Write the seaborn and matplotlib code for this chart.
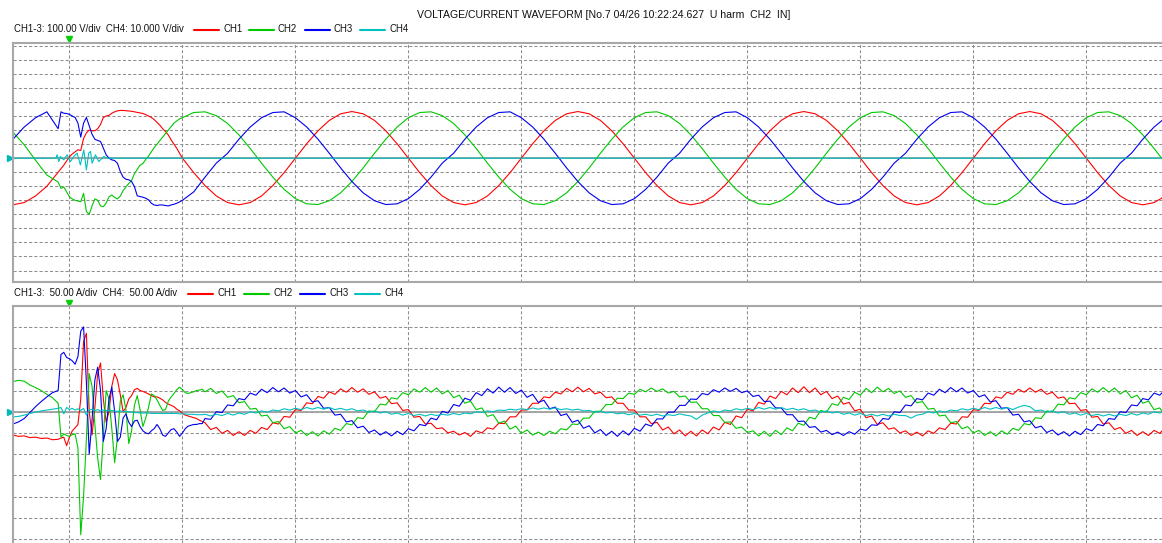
import numpy as np
import pandas as pd
import seaborn as sns
import matplotlib.pyplot as plt
from matplotlib.lines import Line2D

# ---- data (time in ms from trigger) ----
channels = ['CH1', 'CH2', 'CH3', 'CH4']
palette = {'CH1': '#ff0000', 'CH2': '#00c800', 'CH3': '#0000f0', 'CH4': '#00c0c0'}
v_div_13 = 100.0   # V/div for CH1-3
v_div_4 = 10.0     # V/div for CH4
a_div = 50.0       # A/div for all current channels

title_text = 'VOLTAGE/CURRENT WAVEFORM [No.7 04/26 10:22:24.627  U harm  CH2  IN]'
volt_header = 'CH1-3: 100.00 V/div  CH4: 10.000 V/div'
curr_header = 'CH1-3:  50.00 A/div  CH4:  50.00 A/div'

# voltage samples: 1 ms before/after the transient, 0.25 ms around it
t_volt = np.concatenate([np.arange(-5, -1), np.arange(-1, 10, 0.25), np.arange(10, 98)])

ch1_v = ([-332, -316, -269, -200]
         + [-100, -75, -50, -20, 10, 30, 45, 60, 55, 140, 180, 200, 195, 195, 210, 240, 290, 300, 305, 320,
            330, 337, 340, 340, 338, 336, 334, 330, 326, 322, 318, 310, 300, 290, 275, 255, 235, 210, 190, 165,
            130, 100, 70, 35]
         + [0, -103, -195, -269, -316, -332, -316, -269, -195, -103]
         + [0, 103, 195, 269, 316, 332, 316, 269, 195, 103, 0, -103, -195, -269, -316, -332, -316, -269, -195, -103]
         + [0, 103, 195, 269, 316, 332, 316, 269, 195, 103, 0, -103, -195, -269, -316, -332, -316, -269, -195, -103]
         + [0, 103, 195, 269, 316, 332, 316, 269, 195, 103, 0, -103, -195, -269, -316, -332, -316, -269, -195, -103]
         + [0, 103, 195, 269, 316, 332, 316, 269, 195, 103, 0, -103, -195, -269, -316, -332, -316, -269])

ch2_v = ([185, 95, -15, -120]
         + [-170, -215, -205, -240, -275, -290, -300, -305, -310, -250, -380, -400, -340, -290, -300, -340, -345, -320,
            -275, -262, -280, -290, -270, -230, -205, -180, -160, -110, -80, -50, -38, -10, 15, 45, 75, 100, 125, 150,
            175, 200, 225, 250, 265, 280]
         + [288, 325, 330, 303, 247, 166, 69, -35, -135, -222]
         + [-288, -325, -330, -303, -247, -166, -69, 35, 135, 222, 288, 325, 330, 303, 247, 166, 69, -35, -135, -222]
         + [-288, -325, -330, -303, -247, -166, -69, 35, 135, 222, 288, 325, 330, 303, 247, 166, 69, -35, -135, -222]
         + [-288, -325, -330, -303, -247, -166, -69, 35, 135, 222, 288, 325, 330, 303, 247, 166, 69, -35, -135, -222]
         + [-288, -325, -330, -303, -247, -166, -69, 35, 135, 222, 288, 325, 330, 303, 247, 166, 69, -35])

ch3_v = ([135, 222, 288, 330]
         + [210, 330, 320, 318, 312, 300, 290, 250, 150, 250, 290, 230, 170, 135, 126, 119, 71, 24, 0, -12,
            -17, -36, -95, -135, -150, -154, -166, -202, -268, -273, -278, -285, -297, -321, -333, -337, -333, -333,
            -337, -340, -333, -328, -321, -311]
         + [-300, -240, -135, -35, 35, 135, 222, 288, 325, 330]
         + [288, 222, 135, 35, -69, -166, -247, -303, -330, -325, -288, -222, -135, -35, 35, 135, 222, 288, 325, 330]
         + [288, 222, 135, 35, -69, -166, -247, -303, -330, -325, -288, -222, -135, -35, 35, 135, 222, 288, 325, 330]
         + [288, 222, 135, 35, -69, -166, -247, -303, -330, -325, -288, -222, -135, -35, 35, 135, 222, 288, 325, 330]
         + [288, 222, 135, 35, -69, -166, -247, -303, -330, -325, -288, -222, -135, -35, 35, 135, 222, 288])

ch4_v_t = [-5, -1.2, -1.09, -0.94, -0.80, -0.50, -0.21, 0.09, 0.38, 0.68, 0.97, 1.27, 1.50, 1.71, 1.86, 2.01,
           2.30, 2.60, 3.04, 3.33, 97]
ch4_v = [0, 0, 2.4, -2.4, 1.2, -1.2, 2.4, -2.4, 1.2, 3.6, -4.8, 5.9, -8.3, 3.6, 4.8, -3.6, 2.4, -2.4, 1.2, 0, 0]

# current samples: 0.5 ms, 0.25 ms around the transient
t_curr = np.concatenate([np.arange(-5, -1, 0.5), np.arange(-1, 12, 0.25), np.arange(12, 97.5, 0.5)])

ch1_i = ([-55, -58, -57, -61, -60, -63, -62, -66]
         + [-65, -62, -60, -80, -60, -45, -38, -30, 30, 165, 185, 0, -55, 10, 90, 115, 30, -25, 0, 60,
            90, 75, 40, 0, 10, 30, 38, 52, 55, 50, 48, 45, 42, 38, 35, 35, 32, 28, 22, 18,
            15, 12, 6, 2, -4, -8, -10, -12, -14, -16, -20, -23]
         + [-26, -42, -37, -51, -44, -56, -47, -56, -44, -51, -37, -42, -26, -29, -11, -13, 5, 3, 21, 19,
            36, 32, 47, 41, 54, 46, 57, 46, 54, 41, 47, 32, 36, 19, 21, 3, 5, -13, -11, -29]
         + [-27, -40, -38, -50, -46, -55, -49, -58, -45, -50, -38, -41, -27, -28, -12, -12, 4, 4, 20, 20,
            35, 33, 46, 42, 55, 47, 58, 47, 55, 42, 46, 33, 35, 20, 20, 4, 4, -12, -12, -28]
         + [-25, -43, -36, -52, -43, -57, -46, -57, -43, -52, -36, -43, -25, -30, -10, -14, 6, 2, 22, 18,
            37, 31, 48, 40, 56, 45, 59, 45, 56, 40, 48, 31, 37, 18, 22, 2, 6, -14, -10, -30]
         + [-26, -41, -38, -50, -45, -56, -48, -57, -45, -51, -38, -42, -27, -29, -12, -13, 5, 3, 20, 19,
            35, 32, 46, 41, 53, 46, 56, 46, 53, 41, 46, 32, 35, 19, 20, 3, 5, -13, -11, -29]
         + [-26, -42, -37, -51, -44, -56, -47, -56, -44, -51, -37])

ch2_i = ([71, 74, 72, 63, 57, 50, 41, 33]
         + [20, -60, -52, -56, -58, -54, -52, -85, -290, -200, -65, 90, 60, -30, -110, -160, -60, 50, 30, -40,
            -120, -60, 25, 40, 5, -75, -45, 15, 38, 5, -35, -15, 10, 42, 38, 28, 15, 3, 5, 25,
            35, 43, 52, 58, 52, 45, 43, 45, 47, 50, 51, 53]
         + [47, 55, 43, 49, 34, 38, 21, 24, 6, 8, -10, -8, -26, -23, -40, -35, -50, -44, -56, -47,
            -57, -45, -53, -39, -44, -28, -31, -14, -16, 2, 0, 18, 16, 33, 30, 45, 40, 54, 46, 57]
         + [46, 56, 42, 50, 33, 39, 20, 25, 5, 9, -11, -7, -27, -22, -41, -34, -51, -43, -55, -48,
            -56, -46, -52, -40, -43, -29, -30, -15, -15, 1, 1, 17, 17, 32, 31, 44, 41, 53, 47, 56]
         + [48, 54, 44, 48, 35, 37, 22, 23, 7, 7, -9, -9, -25, -24, -39, -36, -49, -45, -57, -46,
            -58, -44, -54, -38, -45, -27, -32, -13, -17, 3, -1, 19, 15, 34, 29, 46, 39, 55, 45, 58]
         + [47, 55, 43, 49, 34, 38, 21, 24, 6, 8, -10, -8, -26, -23, -40, -35, -50, -44, -56, -47,
            -57, -45, -53, -39, -44, -28, -31, -14, -16, 2, 0, 18, 16, 33, 30, 45, 40, 54, 46, 57]
         + [46, 56, 42, 50, 33, 39, 20, 25, 5, 9, -11])

ch3_i = ([-29, -24, -16, -2, 12, 24, 35, 45]
         + [50, 135, 140, 128, 125, 120, 112, 130, 190, 200, 70, -100, -20, 75, 105, 50, -70, -40, 30, 58,
            0, -70, -60, -15, -5, -25, -35, -22, -20, -35, -45, -50, -52, -45, -40, -30, -40, -55, -58, -50,
            -42, -40, -48, -58, -50, -40, -34, -32, -30, -30, -28, -28]
         + [-16, -18, 0, -2, 16, 14, 31, 28, 44, 39, 53, 45, 57, 47, 56, 44, 50, 35, 40, 23,
            26, 8, 10, -8, -6, -24, -21, -38, -34, -49, -43, -55, -47, -57, -46, -54, -40, -45, -30, -33]
         + [-15, -19, 1, -3, 17, 13, 32, 27, 45, 38, 54, 44, 58, 46, 57, 43, 51, 34, 41, 22,
            27, 7, 11, -9, -5, -25, -20, -39, -33, -50, -42, -56, -46, -58, -45, -55, -39, -46, -29, -34]
         + [-17, -17, -1, -1, 15, 15, 30, 29, 43, 40, 52, 46, 56, 48, 55, 45, 49, 36, 39, 24,
            25, 9, 9, -7, -7, -23, -22, -37, -35, -48, -44, -54, -48, -56, -47, -53, -41, -44, -31, -32]
         + [-16, -18, 0, -2, 16, 14, 31, 28, 44, 39, 53, 45, 57, 47, 56, 44, 50, 35, 40, 23,
            26, 8, 10, -8, -6, -24, -21, -38, -34, -49, -43, -55, -47, -57, -46, -54, -40, -45, -30, -33]
         + [-16, -18, 0, -2, 16, 14, 31, 28, 44, 39, 53])

ch4_i = ([-12, -11, -8, -4, -1, 2, 4, 6]
         + [8, 10, -5, 10, 5, 8, 4, 7, 3, 8, -8, 4, 6, 3, 5, 2, 4, 3, 2, 3,
            2, 1, 2, 0, 1, 0, -1, -2, -2, -3, -3, -3, -3, -4, -4, -4, -4, -4, -4, -4,
            -4, -4, -4, -5, -5, -5, -6, -6, -6, -7, -7, -7]
         + [-6, -10, -6, -9, -4, -8, -3, -6, 0, -3, 2, -1, 4, 2, 7, 4, 8, 5, 10, 6,
            10, 6, 10, 5, 8, 4, 7, 2, 4, -1, 2, -3, 0, -6, -3, -8, -4, -9, -6, -10]
         + [-6, -9, -6, -8, -4, -7, -3, -5, 0, -2, 2, 0, 4, 3, 6, 4, 7, 5, 9, 6,
            9, 6, 9, 5, 7, 4, 6, 2, 3, -1, 1, -3, -1, -5, -3, -7, -4, -8, -6, -9]
         + [-6, -10, -7, -9, -5, -8, -10, -18, -8, -3, 2, -1, 4, 2, 7, 4, 8, 5, 10, 6,
            10, 6, 10, 5, 8, 4, 7, 2, 4, -1, 2, -3, 0, -6, -3, -8, -4, -9, -6, -10]
         + [-6, -10, -6, -9, -9, -15, -8, -6, 0, -3, 2, -1, 4, 2, 7, 4, 8, 5, 10, 6,
            10, 6, 10, 5, 11, 15, 12, 2, 4, -1, 2, -3, 0, -6, -3, -8, -4, -9, -6, -10]
         + [-6, -10, -6, -9, -4, -8, -3, -6, 0, -3, 2])

# ---- long tables in divisions ----
volt = pd.concat([
    pd.DataFrame({'t': t_volt, 'div': np.array(ch1_v) / v_div_13, 'ch': 'CH1'}),
    pd.DataFrame({'t': t_volt, 'div': np.array(ch2_v) / v_div_13, 'ch': 'CH2'}),
    pd.DataFrame({'t': t_volt, 'div': np.array(ch3_v) / v_div_13, 'ch': 'CH3'}),
    pd.DataFrame({'t': ch4_v_t, 'div': np.array(ch4_v) / v_div_4, 'ch': 'CH4'}),
], ignore_index=True)

curr = pd.concat([
    pd.DataFrame({'t': t_curr, 'div': np.array(ch1_i) / a_div, 'ch': 'CH1'}),
    pd.DataFrame({'t': t_curr, 'div': np.array(ch2_i) / a_div, 'ch': 'CH2'}),
    pd.DataFrame({'t': t_curr, 'div': np.array(ch3_i) / a_div, 'ch': 'CH3'}),
    pd.DataFrame({'t': t_curr, 'div': np.array(ch4_i) / a_div, 'ch': 'CH4'}),
], ignore_index=True)

# ---- figure ----
sns.set_theme(style='white')
plt.rcParams['font.family'] = ['Liberation Sans', 'DejaVu Sans']

W, H = 1162, 543
fig = plt.figure(figsize=(W / 100, H / 100), dpi=100)

def px_box(x0, y0, x1, y1):
    return [x0 / W, 1 - y1 / H, (x1 - x0) / W, (y1 - y0) / H]

ax1 = fig.add_axes(px_box(12.5, 43, W, 281.5))
ax2 = fig.add_axes(px_box(12.5, 305.7, W, H))

grid_col = '#8f8f8f'
frame_col = '#a8a8a8'
xlim = (-5.04, 96.7)

for ax, ylim in [(ax1, (-8.78, 8.2)), (ax2, (-6.19, 5.0))]:
    ax.set_xlim(*xlim)
    ax.set_ylim(*ylim)
    ax.set_xticks(np.arange(0, 100, 10))
    ax.set_yticks(np.arange(np.ceil(ylim[0]), ylim[1] + 0.01, 1))
    ax.tick_params(length=0, labelbottom=False, labelleft=False)
    ax.grid(True, color=grid_col, linestyle=(0, (3, 2)), linewidth=0.75)
    ax.set_axisbelow(True)
    for side in ['top', 'left', 'bottom']:
        ax.spines[side].set_color(frame_col)
        ax.spines[side].set_linewidth(1.5)
    ax.spines['right'].set_visible(False)
    ax.axhline(0, color='#a0a0a0', linewidth=1.3, zorder=1.5)
ax2.spines['bottom'].set_visible(False)

sns.lineplot(data=volt, x='t', y='div', hue='ch', hue_order=channels, palette=palette,
             estimator=None, sort=False, legend=False, linewidth=0.8, ax=ax1)
sns.lineplot(data=curr, x='t', y='div', hue='ch', hue_order=channels, palette=palette,
             estimator=None, sort=False, legend=False, linewidth=0.8, ax=ax2)
for ax in (ax1, ax2):
    ax.set_xlabel('')
    ax.set_ylabel('')

# trigger and zero markers
ax1.plot([0], [8.47], marker='v', color='#00d000', markersize=5, clip_on=False)
ax2.plot([0], [5.12], marker='v', color='#00d000', markersize=5, clip_on=False)
ax1.plot([-5.3], [0], marker='>', color='#00b8b8', markersize=5, clip_on=False)
ax2.plot([-5.3], [0], marker='>', color='#00b8b8', markersize=5, clip_on=False)

# ---- texts ----
fig.text(604 / W, 1 - 15 / H, title_text, ha='center', va='center', fontsize=7.6, color='#111111')

def header(y, text, line_x):
    fig.text(14 / W, 1 - y / H, text, ha='left', va='center', fontsize=6.9, color='#111111')
    for ch, x0 in zip(channels, line_x):
        fig.add_artist(Line2D([x0 / W, (x0 + 25) / W], [1 - y / H, 1 - y / H],
                              color=palette[ch], linewidth=1.5, transform=fig.transFigure))
        fig.text((x0 + 29) / W, 1 - y / H, ch, ha='left', va='center', fontsize=6.9, color='#111111')

header(29.5, volt_header, [194, 249, 305, 360])
header(293.5, curr_header, [188, 244, 300, 355])

fig.savefig('out.png', dpi=100)
